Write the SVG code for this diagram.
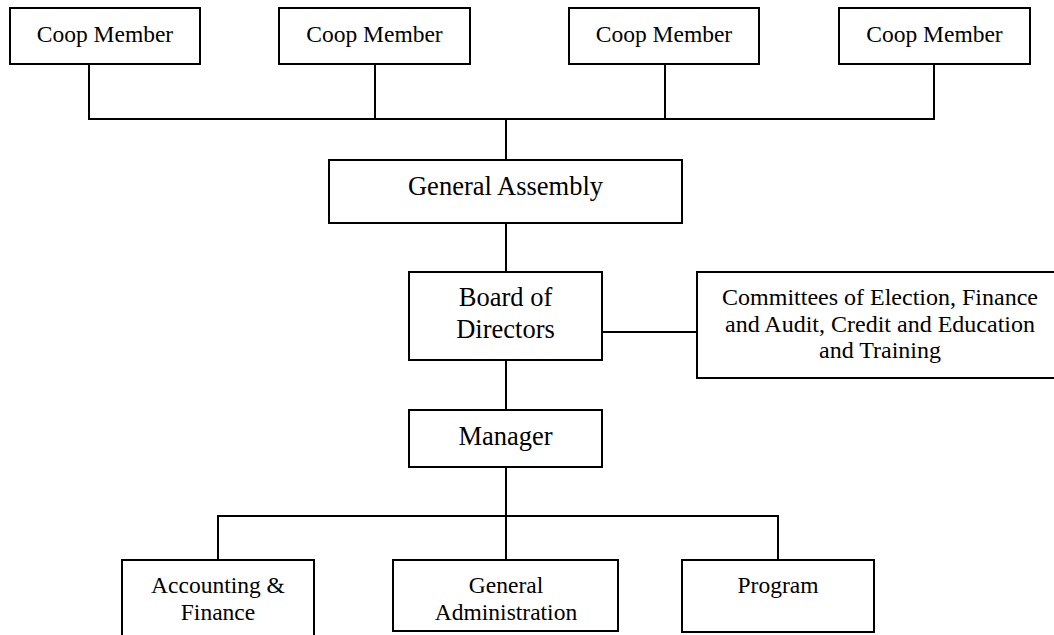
<svg xmlns="http://www.w3.org/2000/svg" width="1054" height="635" viewBox="0 0 1054 635">
<style>
rect{fill:#fff;stroke:#000;stroke-width:2}
.c line{stroke:#000;stroke-width:2}
text{font-family:"Liberation Serif","Times New Roman",serif;fill:#000;text-anchor:middle}
.s{font-size:23.5px}
.l{font-size:26.5px}
.m{font-size:24px}
</style>
<rect x="0" y="0" width="1054" height="635" style="stroke:none;fill:#fff"/>
<g class="c" id="connectors">
<line x1="89" y1="64" x2="89" y2="119"/>
<line x1="375" y1="64" x2="375" y2="119"/>
<line x1="665" y1="64" x2="665" y2="119"/>
<line x1="934" y1="64" x2="934" y2="119"/>
<line x1="88" y1="119" x2="935" y2="119"/>
<line x1="506" y1="119" x2="506" y2="160"/>
<line x1="506" y1="223" x2="506" y2="272"/>
<line x1="602" y1="332" x2="697" y2="332"/>
<line x1="506" y1="360" x2="506" y2="410"/>
<line x1="506" y1="467" x2="506" y2="560"/>
<line x1="217" y1="516" x2="779" y2="516"/>
<line x1="218" y1="516" x2="218" y2="560"/>
<line x1="778" y1="516" x2="778" y2="560"/>
</g>
<g id="coop1"><rect x="10" y="8" width="190" height="56"/><text class="s" x="105" y="42">Coop Member</text></g>
<g id="coop2"><rect x="279" y="8" width="191" height="56"/><text class="s" x="374.5" y="42">Coop Member</text></g>
<g id="coop3"><rect x="569" y="8" width="190" height="56"/><text class="s" x="664" y="42">Coop Member</text></g>
<g id="coop4"><rect x="839" y="8" width="191" height="56"/><text class="s" x="934.5" y="42">Coop Member</text></g>
<g id="assembly"><rect x="329" y="160" width="353" height="63"/><text class="l" x="505.5" y="195">General Assembly</text></g>
<g id="board"><rect x="409" y="272" width="193" height="88"/><text class="l" x="505.5" y="306">Board of</text><text class="l" x="505.5" y="338">Directors</text></g>
<g id="committees"><rect x="697" y="272" width="366" height="106"/><text class="m" x="880" y="305">Committees of Election, Finance</text><text class="m" x="880" y="332">and Audit, Credit and Education</text><text class="m" x="880" y="358">and Training</text></g>
<g id="manager"><rect x="409" y="410" width="193" height="57"/><text class="l" x="505.5" y="445">Manager</text></g>
<g id="accounting"><rect x="122" y="560" width="192" height="85"/><text class="s" x="218" y="593">Accounting &amp;</text><text class="s" x="218" y="620">Finance</text></g>
<g id="admin"><rect x="393" y="560" width="225" height="71"/><text class="s" x="506" y="593">General</text><text class="s" x="506" y="620">Administration</text></g>
<g id="program"><rect x="682" y="560" width="192" height="72"/><text class="s" x="778" y="593">Program</text></g>
</svg>
